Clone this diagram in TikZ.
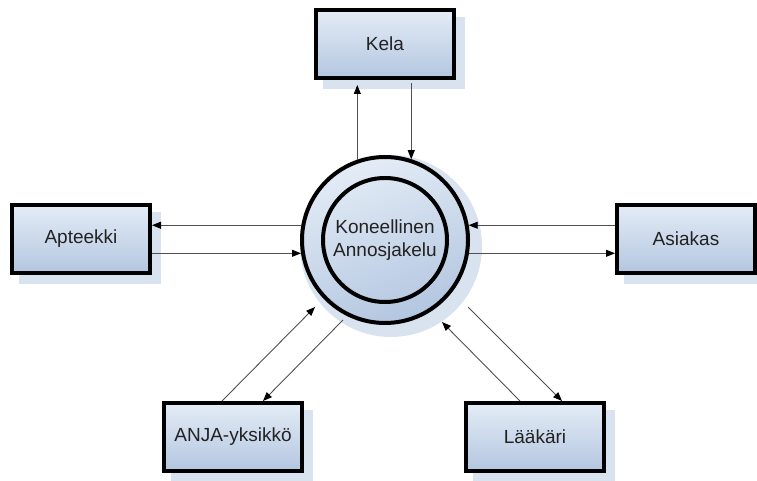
\documentclass[tikz,border=0pt]{standalone}
\usepackage{fontspec}
\setmainfont{Liberation Sans}
\usetikzlibrary{arrows.meta,calc}
\definecolor{boxtop}{HTML}{E4ECF6}
\definecolor{boxbot}{HTML}{B3C6E0}
\definecolor{shadowc}{HTML}{D9E3F0}
\definecolor{txt}{HTML}{222222}
\definecolor{arr}{HTML}{505050}
\begin{document}
\begin{tikzpicture}[x=1pt,y=-1pt,
  entity/.style={draw=black, line width=4pt, minimum width=138pt, minimum height=68pt,
    inner sep=0pt, top color=boxtop, bottom color=boxbot,
    font=\fontsize{19}{23}\selectfont, text=txt},
  eshadow/.style={fill=shadowc, draw=none, minimum width=142pt, minimum height=72pt, inner sep=0pt},
  ring/.style={circle, draw=black, line width=4pt, inner sep=0pt},
  flow/.style={draw=arr, line width=0.9pt, -{Triangle[length=9pt,width=7pt,color=black]}}
]
\useasboundingbox (0,0) rectangle (757,481);
% shadows
\node[eshadow] (kelash) at (394,53) {};
\node[eshadow] (aptsh) at (90,248) {};
\node[eshadow] (asish) at (695,248) {};
\node[eshadow] (anjash) at (242,446) {};
\node[eshadow] (laaksh) at (544,446) {};
\node[circle, fill=shadowc, minimum size=182pt, inner sep=0pt] (circsh) at (391,246) {};
% entities
\node[entity] (kela) at (385,44) {Kela};
\node[entity] (apt) at (81,239) {Apteekki};
\node[entity] (asi) at (686,239) {Asiakas};
\node[entity] (anja) at (233,437) {ANJA-yksikkö};
\node[entity] (laak) at (535,437) {Lääkäri};
% process
\node[ring, minimum size=166pt, top color=boxtop, bottom color=boxbot, shading angle=20] (circ) at (385,240) {};
\node[ring, minimum size=124pt, align=center, font=\fontsize{19}{23}\selectfont, text=txt] (inner) at (circ.center) {Koneellinen\\Annosjakelu};
% flows
\draw[flow, shorten >=5pt] (circ.109) -- (circ.109 |- kela.south);
\draw[flow, shorten <=3pt] (circ.72 |- kela.south) -- (circ.72);
\draw[flow] (circ.170) -- (circ.170 -| apt.east);
\draw[flow] (circ.189.5 -| apt.east) -- (circ.189.5);
\draw[flow] (circ.10 -| asi.west) -- (circ.10);
\draw[flow] (circ.351) -- (circ.351 -| asi.west);
\draw[flow] ($(anja.north)+(-11,0)$) -- ($(circ.center)+(-70,67)$);
\draw[flow] ($(circ.center)+(-42,80)$) -- ($(anja.north)+(30,0)$);
\draw[flow] ($(laak.north)+(-15,0)$) -- ($(circ.center)+(57,82)$);
\draw[flow] ($(circ.center)+(83,67)$) -- ($(laak.north)+(27,0)$);
\end{tikzpicture}
\end{document}
